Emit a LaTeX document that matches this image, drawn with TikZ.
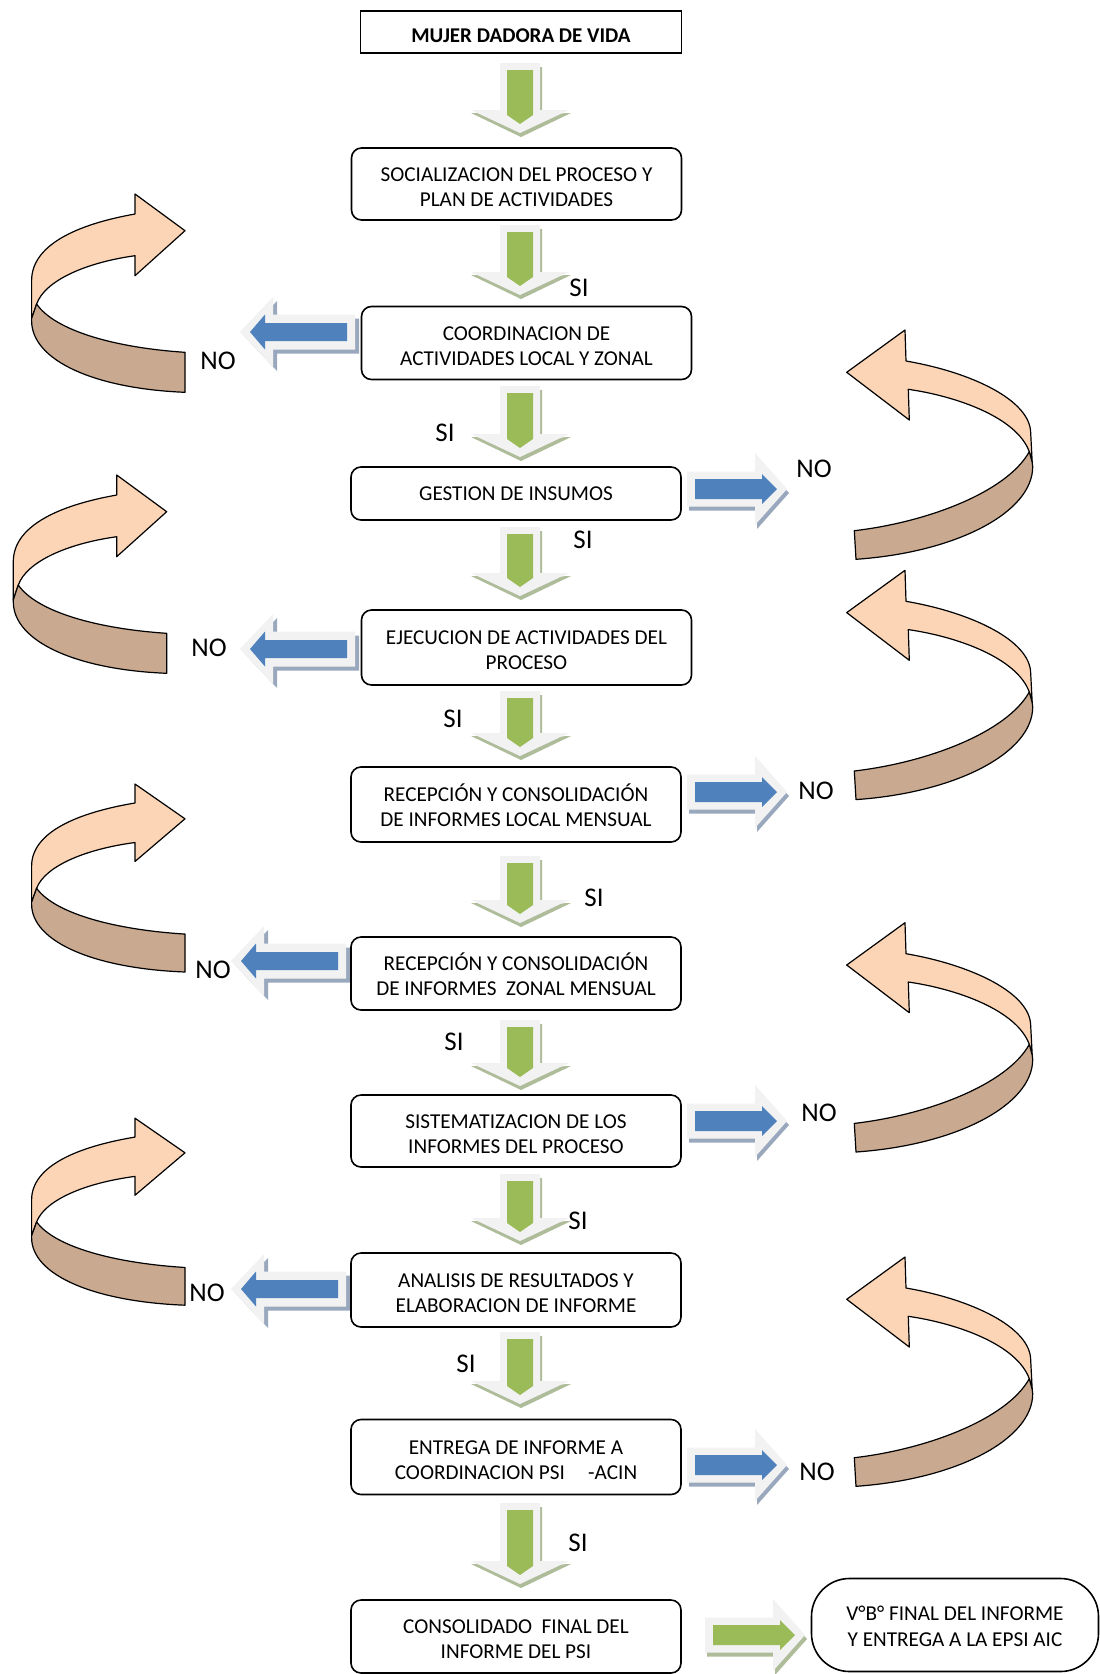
\documentclass[tikz,border=0pt]{standalone}
\usepackage{fontspec}
\setmainfont{Carlito}
\definecolor{agreen}{HTML}{9BBB59}
\definecolor{ablue}{HTML}{4F81BD}
\definecolor{alight}{HTML}{F2F2F2}
\definecolor{agshadow}{HTML}{AEBC9A}
\definecolor{abshadow}{HTML}{9AA8BE}
\definecolor{apeach}{HTML}{FBD5B5}
\definecolor{atan}{HTML}{C9A98F}
\newcommand\boxfont{\fontsize{21.2}{24.7}\selectfont}
\newcommand\lblfont{\fontsize{27}{30}\selectfont}
\newcommand\fstrut{\rule{0pt}{19.6pt}}
% down block arrow: x, top, tip
\newcommand{\darrow}[3]{%
\begin{scope}[shift={(#1,#2)}]
 \fill[agshadow] (-18,4) -- (22,4) -- (22,{#3-#2-27+4}) -- (51,{#3-#2-27+3}) -- (1,{#3-#2}) -- (-49,{#3-#2-27+3}) -- (-18,{#3-#2-27+4}) -- cycle;
 \fill[alight] (-20,0) -- (20,0) -- (20,{#3-#2-27}) -- (49,{#3-#2-27}) -- (0,{#3-#2-4}) -- (-49,{#3-#2-27}) -- (-20,{#3-#2-27}) -- cycle;
 \fill[agreen] (-13,7) -- (13,7) -- (13,{#3-#2-22}) -- (0,{#3-#2-13}) -- (-13,{#3-#2-22}) -- cycle;
\end{scope}}
% left block arrow: tip x, centre y
\newcommand{\larrow}[2]{%
\begin{scope}[shift={(#1,#2)}]
 \fill[abshadow] (4,4) -- (37,-31) -- (37,-13.5) -- (119,-13.5) -- (119,21.5) -- (37,21.5) -- (37,39) -- cycle;
 \fill[alight] (0,0) -- (33,-35) -- (33,-17.5) -- (115,-17.5) -- (115,17.5) -- (33,17.5) -- (33,35) -- cycle;
 \fill[ablue] (10,0) -- (25,-17.5) -- (25,-9) -- (107,-9) -- (107,9) -- (25,9) -- (25,17.5) -- cycle;
\end{scope}}
% right block arrow: tail x, centre y, colour, shadow colour
\newcommand{\rarrow}[4]{%
\begin{scope}[shift={(#1,#2)}]
 \fill[#4] (2,-13) -- (70,-13) -- (70,-31) -- (102,4) -- (70,40) -- (70,21.5) -- (2,21.5) -- cycle;
 \fill[alight] (0,-17.5) -- (68,-17.5) -- (68,-36) -- (100,0) -- (68,36) -- (68,17.5) -- (0,17.5) -- cycle;
 \fill[#3] (8,-10) -- (75,-10) -- (75,-15) -- (90,0) -- (75,15) -- (75,10) -- (8,10) -- cycle;
\end{scope}}
% curved arrow on the left, pointing right: tip x, tip y, vertical scale
\newcommand{\lcurve}[3]{%
\begin{scope}[shift={(#1,#2)}, yscale=#3, line width=1.2pt, line join=round]
 \filldraw[fill=apeach] (0,0) -- (-50,-36.7) -- (-50,-16.7) .. controls (-110,-6) and (-153.4,15) .. (-153.4,50) -- (-153.4,88) -- (-148.4,73.3) .. controls (-140,50) and (-100,32) .. (-50,25) -- (-50,45) -- cycle;
 \filldraw[fill=atan] (-148.4,73.3) .. controls (-130,100) and (-70,117) .. (0,121.6) -- (0,161.6) .. controls (-90,158) and (-153.4,130) .. (-153.4,90) -- (-153.4,88) -- cycle;
\end{scope}}
% curved arrow on the right, pointing left: tip
\newcommand{\rcurve}[2]{%
\begin{scope}[shift={(#1,#2)}, line width=1.2pt, line join=round]
 \filldraw[fill=apeach] (0,0) -- (58.3,-42.3) -- (59.3,-11.3) .. controls (125,0) and (184,28) .. (184,61) -- (185.5,90) -- (182.6,79.4) .. controls (170,45) and (110,24) .. (61.6,17) -- (62.6,47.7) -- cycle;
 \filldraw[fill=atan] (182.6,79.4) .. controls (160,120) and (80,150) .. (7.6,158.4) -- (9.3,187) .. controls (110,180) and (186,140) .. (186,94.4) -- (185.5,90) -- cycle;
\end{scope}}
\begin{document}
\begin{tikzpicture}[x=1pt, y=-1pt,
  box/.style={draw, line width=1.6pt, rounded corners=10pt, minimum width=330pt, minimum height=73pt, align=center, font=\boxfont, inner sep=0pt},
  lbl/.style={font=\lblfont, inner sep=0pt}]
\useasboundingbox (0,0) rectangle (1100,1674);
\fill[white] (0,0) rectangle (1100,1674);

% curved arrows
\lcurve{185}{230.7}{1}
\lcurve{166.7}{511.7}{1}
\lcurve{185}{818.8}{0.948}
\lcurve{185}{1152.8}{0.943}
\rcurve{846.7}{372.3}
\rcurve{846.7}{612.6}
\rcurve{846.7}{965}
\rcurve{846.7}{1299.3}

% down arrows
\darrow{520}{63}{137}
\darrow{520}{225}{299}
\darrow{520}{386}{461}
\darrow{520}{527}{600}
\darrow{520}{691}{760}
\darrow{520}{856}{927}
\darrow{520}{1020}{1090}
\darrow{520}{1174}{1245}
\darrow{520}{1332}{1408}
\darrow{520}{1503}{1588}

% horizontal arrows
\larrow{240}{332}
\larrow{240}{649}
\larrow{231}{961}
\larrow{231}{1289}
\rarrow{687}{489}{ablue}{abshadow}
\rarrow{687}{792}{ablue}{abshadow}
\rarrow{687}{1121}{ablue}{abshadow}
\rarrow{687}{1465}{ablue}{abshadow}
\rarrow{705}{1635}{agreen}{agshadow}

% boxes
\node[draw, line width=1.6pt, minimum width=321pt, minimum height=42pt, inner sep=0pt, font=\fontsize{21}{24}\selectfont\bfseries] (b1) at (521,32) {\rule{0pt}{20.4pt}MUJER DADORA DE VIDA};
\node[box, minimum height=72pt] (b2) at (516.5,184) {\fstrut SOCIALIZACION DEL PROCESO Y\\PLAN DE ACTIVIDADES};
\node[box] (b3) at (526.5,343) {\fstrut COORDINACION DE\\ACTIVIDADES LOCAL Y ZONAL};
\node[box, minimum height=53pt] (b4) at (516,493.5) {GESTION DE INSUMOS};
\node[box, minimum height=75pt] (b5) at (526.5,647.5) {\fstrut EJECUCION DE ACTIVIDADES DEL\\PROCESO};
\node[box, minimum height=75pt] (b6) at (516,804.5) {\fstrut RECEPCIÓN Y CONSOLIDACIÓN\\DE INFORMES LOCAL MENSUAL};
\node[box] (b7) at (516,973.5) {\fstrut RECEPCIÓN Y CONSOLIDACIÓN\\DE INFORMES\ \ ZONAL MENSUAL};
\node[box, minimum height=72pt] (b8) at (516,1131) {\fstrut SISTEMATIZACION DE LOS\\INFORMES DEL PROCESO};
\node[box, minimum height=74pt] (b9) at (516,1290) {\fstrut ANALISIS DE RESULTADOS Y\\ELABORACION DE INFORME};
\node[box, minimum height=75pt] (b10) at (516,1457) {\fstrut ENTREGA DE INFORME A\\COORDINACION PSI\hspace{1.1em}-ACIN};
\node[box] (b11) at (516,1636.5) {\fstrut CONSOLIDADO\ \ FINAL DEL\\INFORME DEL PSI};
\node[box, minimum width=287pt, minimum height=93pt, rounded corners=38pt, font=\fontsize{21.2}{26.5}\selectfont] (fin) at (955,1625) {\rule{0pt}{17.6pt}V°B° FINAL DEL INFORME\\Y ENTREGA A LA EPSI AIC};

% labels
\node[lbl] (s1) at (579,288) {SI};
\node[lbl] (n1) at (218,361) {NO};
\node[lbl] (s2) at (445,433) {SI};
\node[lbl] (n2) at (814,469) {NO};
\node[lbl] (s3) at (583,540) {SI};
\node[lbl] (n3) at (209,648) {NO};
\node[lbl] (s4) at (453,719) {SI};
\node[lbl] (n4) at (816,791) {NO};
\node[lbl] (s5) at (594,898) {SI};
\node[lbl] (n5) at (213,970) {NO};
\node[lbl] (s6) at (454,1042) {SI};
\node[lbl] (n6) at (819,1113) {NO};
\node[lbl] (s7) at (578,1221) {SI};
\node[lbl] (n7) at (207,1293) {NO};
\node[lbl] (s8) at (466,1364) {SI};
\node[lbl] (n8) at (817,1472) {NO};
\node[lbl] (s9) at (578,1543) {SI};
\end{tikzpicture}
\end{document}
